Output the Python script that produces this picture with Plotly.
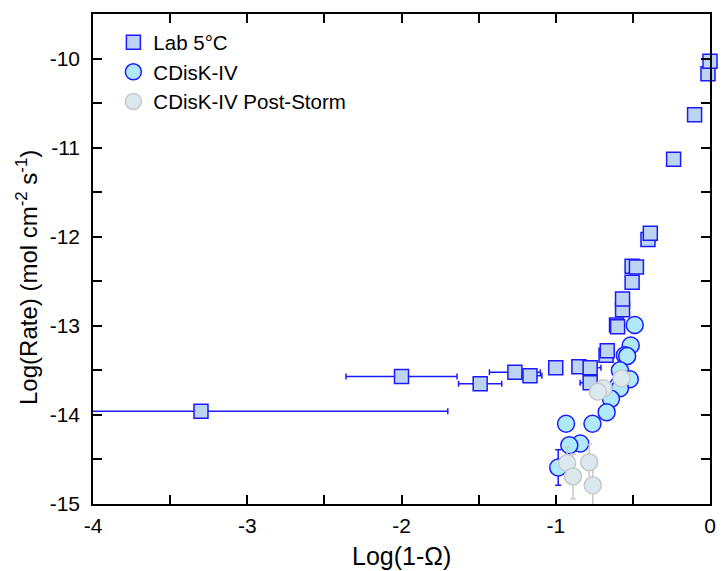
import plotly.graph_objects as go

# ---- data ----
lab_x = [-3.30, -2.00, -1.49, -1.265, -1.167, -1.00, -0.85, -0.777, -0.777, -0.674, -0.666,
         -0.606, -0.599, -0.567, -0.567, -0.505, -0.505, -0.477, -0.402, -0.387, -0.236,
         -0.10, -0.013, 0.0]
lab_y = [-13.96, -13.57, -13.65, -13.52, -13.56, -13.47, -13.46, -13.47, -13.64, -13.33, -13.28,
         -12.99, -13.01, -12.82, -12.70, -12.51, -12.33, -12.34, -12.03, -11.96, -11.13,
         -10.63, -10.17, -10.03]
lab_xerr = [1.60, 0.36, 0.14, 0.165, 0.077, 0.03, 0.03, 0.07, 0.065, 0.03, 0.0,
            0.0, 0.0, 0.0, 0.0, 0.0, 0.0, 0.0, 0.0, 0.0, 0.0,
            0.0, 0.0, 0.0]

cd_x = [-0.488, -0.514, -0.552, -0.537, -0.584, -0.52, -0.595, -0.584, -0.642, -0.67,
        -0.762, -0.933, -0.841, -0.912, -0.984]
cd_y = [-12.99, -13.22, -13.33, -13.34, -13.50, -13.60, -13.67, -13.70, -13.82, -13.97,
        -14.10, -14.10, -14.32, -14.34, -14.59]
cd_yerr = [0, 0, 0, 0, 0, 0, 0, 0, 0, 0, 0, 0, 0, 0, 0.2]

ps_x = [-0.573, -0.69, -0.727, -0.926, -0.783, -0.888, -0.76]
ps_y = [-13.59, -13.70, -13.74, -14.54, -14.53, -14.69, -14.79]
ps_yerr = [0, 0, 0, 0.18, 0.2, 0.25, 0.22]

xticks = [-4, -3.5, -3, -2.5, -2, -1.5, -1, -0.5, 0]
yticks = [-15, -14.5, -14, -13.5, -13, -12.5, -12, -11.5, -11, -10.5, -10, -9.5]

def lbl(v):
    return ("%d" % v) if float(v).is_integer() else ""

FONT = "Liberation Sans, Arial, sans-serif"
BLUE = "#1a1aff"

fig = go.Figure()
fig.add_trace(go.Scatter(
    x=lab_x, y=lab_y, mode="markers", name="Lab 5°C",
    marker=dict(symbol="square", size=14, color="#bcd4f2", line=dict(color=BLUE, width=1.5)),
    error_x=dict(type="data", array=lab_xerr, color=BLUE, thickness=1.5, width=3),
    cliponaxis=False,
))
fig.add_trace(go.Scatter(
    x=cd_x, y=cd_y, mode="markers", name="CDisK-IV",
    marker=dict(symbol="circle", size=17, color="#aeeafc", line=dict(color=BLUE, width=1.5)),
    error_y=dict(type="data", array=cd_yerr, color=BLUE, thickness=1.5, width=3),
    cliponaxis=False,
))
fig.add_trace(go.Scatter(
    x=ps_x, y=ps_y, mode="markers", name="CDisK-IV Post-Storm",
    marker=dict(symbol="circle", size=17, color="#dbe9ef", line=dict(color="#c8c8c8", width=1.5)),
    error_y=dict(type="data", array=ps_yerr, color="#c8c8c8", thickness=1.5, width=3),
    cliponaxis=False,
))

axis_common = dict(
    showgrid=False, zeroline=False, showline=True, linecolor="black", linewidth=1.5,
    mirror="allticks", ticks="inside", ticklen=9, tickwidth=1.5, tickcolor="black",
    tickfont=dict(family=FONT, size=21, color="black"),
)
fig.update_xaxes(range=[-4, 0], tickmode="array", tickvals=xticks,
                 ticktext=[lbl(v) for v in xticks], ticklabelstandoff=2, **axis_common)
fig.update_yaxes(range=[-15, -9.5], tickmode="array", tickvals=yticks,
                 ticktext=[lbl(v) for v in yticks], ticklabelstandoff=7, **axis_common)

fig.add_annotation(text="Log(1-Ω)", xref="paper", yref="paper", x=0.5, y=-0.107,
                   xanchor="center", yanchor="middle", showarrow=False,
                   font=dict(family=FONT, size=25, color="black"))
fig.add_annotation(text="Log(Rate) (mol cm<sup>-2</sup> s<sup>-1</sup>)", xref="paper", yref="paper",
                   x=-0.108, y=0.462, xanchor="center", yanchor="middle", textangle=-90,
                   showarrow=False, font=dict(family=FONT, size=24, color="black"))

fig.update_layout(
    width=725, height=571,
    margin=dict(l=93, r=9, t=14, b=67),
    plot_bgcolor="white", paper_bgcolor="white",
    showlegend=True,
    legend=dict(x=0.033, y=0.983, xanchor="left", yanchor="top",
                bgcolor="rgba(0,0,0,0)", font=dict(family=FONT, size=20.5, color="black"),
                tracegroupgap=0, itemwidth=30),
)

fig.write_html("out.html")
